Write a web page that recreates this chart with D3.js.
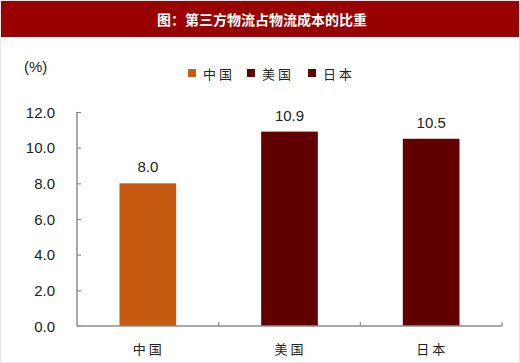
<!DOCTYPE html>
<html><head><meta charset="utf-8">
<script src="https://cdn.jsdelivr.net/npm/d3@7"></script>
<style>body{margin:0;background:#fff}svg{display:block}</style>
</head><body>
<script>
const categories = ["中国", "美国", "日本"];
const values = [8.0, 10.9, 10.5];
const colors = ["#C55A11", "#600000", "#600000"];
const yTicks = [0, 2, 4, 6, 8, 10, 12];
const title = "图：第三方物流占物流成本的比重";
const unit = "(%)";

const W = 520, H = 363;
const svg = d3.select("body").append("svg").attr("width", W).attr("height", H);
svg.append("rect").attr("x", 0.5).attr("y", 0.5).attr("width", W - 1).attr("height", H - 1)
  .attr("fill", "#fff").attr("stroke", "#e6e6e6");
svg.append("rect").attr("x", 1).attr("y", 1).attr("width", W - 2).attr("height", 36).attr("fill", "#990000");
svg.append("text").attr("x", 262).attr("y", 19).attr("text-anchor", "middle").attr("dominant-baseline", "central")
  .attr("fill", "#fff").attr("font-family", "Noto Sans CJK SC").attr("font-weight", "bold")
  .attr("font-size", 14).text(title);

const x0 = 77, x1 = 502, yTop = 112, yBot = 326;
const x = d3.scaleBand().domain(categories).range([x0, x1]).paddingInner(0.6).paddingOuter(0.3);
const y = d3.scaleLinear().domain([0, 12]).range([yBot, yTop]);

const font = "Liberation Sans, Arial, sans-serif";
const axisColor = "#8c8c8c";

// bars
svg.selectAll("rect.bar").data(values).enter().append("rect").attr("class", "bar")
  .attr("x", (d, i) => x(categories[i])).attr("width", x.bandwidth())
  .attr("y", d => y(d)).attr("height", d => y(0) - y(d))
  .attr("fill", (d, i) => colors[i]);

svg.selectAll("text.val").data(values).enter().append("text").attr("class", "val")
  .attr("x", (d, i) => x(categories[i]) + x.bandwidth() / 2).attr("y", d => y(d) - 11)
  .attr("text-anchor", "middle").attr("font-family", font).attr("font-size", 15).attr("fill", "#222")
  .text(d => d.toFixed(1));

// y axis
const yAxis = d3.axisRight(y).tickValues(yTicks).tickSize(4).tickFormat("");
const gy = svg.append("g").attr("transform", `translate(${x0},0)`).call(yAxis);
gy.select(".domain").remove();
gy.selectAll("line").attr("stroke", axisColor).attr("stroke-width", 1.2);
svg.append("line").attr("x1", x0).attr("x2", x0).attr("y1", yTop).attr("y2", yBot)
  .attr("stroke", axisColor).attr("stroke-width", 1.5);
svg.selectAll("text.yt").data(yTicks).enter().append("text").attr("class", "yt")
  .attr("x", 55).attr("y", d => y(d)).attr("dominant-baseline", "central").attr("text-anchor", "end")
  .attr("font-family", font).attr("font-size", 15).attr("fill", "#222").text(d => d.toFixed(1));

// x axis
svg.append("line").attr("x1", x0).attr("x2", x1).attr("y1", yBot).attr("y2", yBot)
  .attr("stroke", axisColor).attr("stroke-width", 1.5);
const step = (x1 - x0) / categories.length;
const bounds = d3.range(1, categories.length + 1).map(i => x0 + step * i);
svg.selectAll("line.xt").data(bounds).enter().append("line").attr("class", "xt")
  .attr("x1", d => d).attr("x2", d => d).attr("y1", yBot).attr("y2", yBot - 4)
  .attr("stroke", axisColor).attr("stroke-width", 1.2);
svg.selectAll("text.xl").data(categories).enter().append("text").attr("class", "xl")
  .attr("x", d => x(d) + x.bandwidth() / 2 + 1).attr("y", 348).attr("text-anchor", "middle")
  .attr("dominant-baseline", "central").attr("font-family", "Noto Sans CJK SC").attr("font-size", 13)
  .attr("letter-spacing", "3px").attr("fill", "#222").text(d => d);

svg.append("text").attr("x", 24).attr("y", 66).attr("dominant-baseline", "central")
  .attr("font-family", font).attr("font-size", 15).attr("fill", "#222").text(unit);

// legend
const legX = [188, 247, 308];
const lg = svg.selectAll("g.leg").data(categories).enter().append("g").attr("class", "leg")
  .attr("transform", (d, i) => `translate(${legX[i]},73)`);
lg.append("rect").attr("x", 0).attr("y", -4).attr("width", 8).attr("height", 8).attr("fill", (d, i) => colors[i]);
lg.append("text").attr("x", 15).attr("y", 0).attr("dominant-baseline", "central")
  .attr("font-family", "Noto Sans CJK SC").attr("font-size", 13).attr("letter-spacing", "3px")
  .attr("fill", "#222").text(d => d);
</script>
</body></html>
